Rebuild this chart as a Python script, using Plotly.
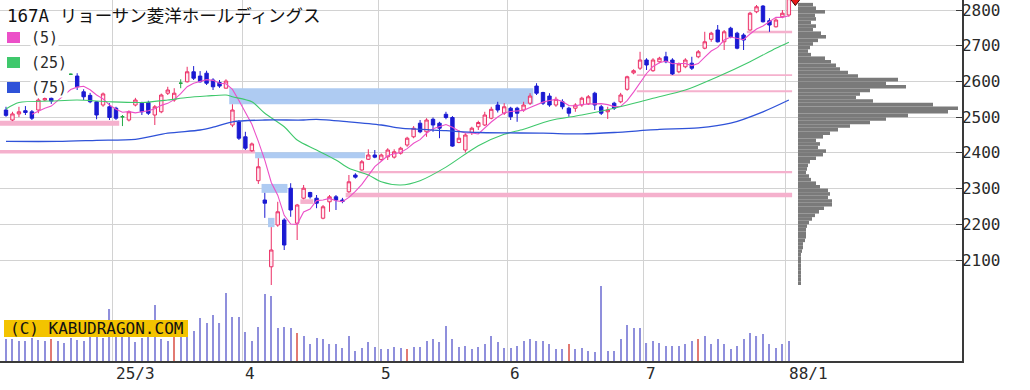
import pandas as pd
import plotly.graph_objects as go

TITLE_CODE = "167A"
TITLE_NAME = "リョーサン菱洋ホールディングス"

# ---------------- data ----------------
opens = [2520, 2492, 2509, 2518, 2515, 2520, 2548, 2553, 2566, 2596,
         2620, 2615, 2571, 2561, 2543, 2534, 2529, 2525, 2501, 2492,
         2534, 2539, 2541, 2506, 2515, 2567, 2548, 2595, 2599, 2627,
         2615, 2623, 2604, 2597, 2581, 2478, 2487, 2445, 2406, 2322,
         2268, 2081, 2198, 2212, 2301, 2203, 2273, 2289, 2273, 2217,
         2263, 2277, 2268, 2291, 2338, 2352, 2382, 2394, 2381, 2389,
         2388, 2399, 2422, 2445, 2483, 2459, 2494, 2483, 2508, 2499,
         2429, 2408, 2457, 2473, 2478, 2497, 2534, 2511, 2525, 2525,
         2520, 2539, 2587, 2569, 2559, 2534, 2543, 2525, 2525, 2534,
         2537, 2567, 2529, 2515, 2539, 2543, 2578, 2624, 2637, 2660,
         2630, 2655, 2669, 2660, 2627, 2641, 2651, 2669, 2693, 2718,
         2744, 2711, 2749, 2735, 2730, 2744, 2795, 2811, 2770, 2753,
         2781, 2786]
highs = [2529, 2515, 2529, 2531, 2520, 2553, 2556, 2556, 2598, 2602,
         2622, 2623, 2578, 2568, 2545, 2569, 2539, 2529, 2506, 2519,
         2554, 2543, 2546, 2534, 2566, 2585, 2581, 2606, 2641, 2643,
         2629, 2630, 2609, 2604, 2606, 2536, 2492, 2459, 2429, 2385,
         2288, 2192, 2263, 2217, 2315, 2257, 2310, 2291, 2282, 2254,
         2282, 2282, 2274, 2338, 2343, 2380, 2410, 2408, 2398, 2413,
         2410, 2417, 2445, 2475, 2492, 2497, 2499, 2487, 2515, 2503,
         2464, 2455, 2473, 2490, 2515, 2529, 2543, 2539, 2529, 2529,
         2543, 2567, 2595, 2571, 2567, 2557, 2550, 2529, 2539, 2557,
         2562, 2571, 2534, 2529, 2543, 2568, 2616, 2634, 2683, 2665,
         2665, 2669, 2683, 2665, 2653, 2665, 2669, 2688, 2739, 2739,
         2758, 2744, 2753, 2739, 2735, 2795, 2814, 2814, 2777, 2777,
         2800, 2840]
lows = [2501, 2489, 2500, 2506, 2492, 2511, 2545, 2537, 2564, 2570,
        2618, 2576, 2548, 2539, 2494, 2529, 2492, 2492, 2475, 2488,
        2530, 2506, 2506, 2478, 2511, 2562, 2543, 2581, 2597, 2604,
        2597, 2590, 2576, 2582, 2582, 2472, 2436, 2408, 2403, 2313,
        2218, 2030, 2193, 2128, 2221, 2156, 2270, 2272, 2245, 2214,
        2235, 2240, 2259, 2288, 2328, 2350, 2380, 2385, 2378, 2380,
        2384, 2395, 2417, 2441, 2455, 2445, 2459, 2441, 2494, 2417,
        2427, 2401, 2450, 2464, 2475, 2494, 2513, 2506, 2492, 2487,
        2515, 2534, 2562, 2534, 2529, 2529, 2522, 2501, 2515, 2529,
        2534, 2520, 2506, 2495, 2520, 2539, 2574, 2620, 2632, 2632,
        2627, 2651, 2651, 2618, 2623, 2637, 2632, 2665, 2690, 2711,
        2709, 2688, 2721, 2690, 2688, 2742, 2791, 2765, 2739, 2751,
        2777, 2781]
closes = [2505, 2509, 2515, 2513, 2497, 2548, 2552, 2545, 2592, 2578,
          2620, 2585, 2557, 2543, 2506, 2565, 2499, 2497, 2501, 2515,
          2548, 2515, 2511, 2529, 2562, 2576, 2567, 2595, 2627, 2609,
          2599, 2595, 2585, 2587, 2601, 2520, 2441, 2413, 2425, 2361,
          2259, 2128, 2235, 2142, 2240, 2254, 2301, 2277, 2259, 2249,
          2277, 2268, 2264, 2319, 2332, 2375, 2394, 2388, 2394, 2408,
          2403, 2413, 2441, 2469, 2459, 2492, 2478, 2469, 2499, 2419,
          2441, 2450, 2469, 2485, 2506, 2522, 2520, 2529, 2501, 2511,
          2534, 2559, 2567, 2539, 2534, 2550, 2529, 2511, 2534, 2553,
          2557, 2534, 2511, 2520, 2525, 2562, 2613, 2630, 2660, 2646,
          2660, 2665, 2655, 2621, 2649, 2660, 2637, 2683, 2711, 2735,
          2711, 2739, 2725, 2693, 2716, 2791, 2809, 2767, 2758, 2772,
          2791, 2832]
volume = [22, 22, 20, 20, 23, 21, 20, 22, 20, 18,
          23, 21, 20, 24, 24, 23, 52, 24, 24, 24,
          19, 23, 24, 56, 22, 20, 24, 24, 24, 30,
          43, 38, 46, 38, 68, 44, 44, 29, 20, 34,
          67, 65, 33, 34, 33, 28, 25, 17, 23, 22,
          17, 17, 13, 25, 10, 13, 19, 14, 12, 12,
          14, 13, 12, 14, 14, 20, 22, 19, 35, 22,
          14, 15, 12, 14, 17, 25, 19, 13, 13, 15,
          20, 22, 20, 20, 17, 12, 12, 17, 12, 13,
          10, 9, 75, 10, 10, 22, 36, 33, 33, 18,
          20, 18, 15, 15, 15, 17, 20, 22, 25, 17,
          22, 17, 12, 15, 22, 28, 25, 27, 17, 13,
          17, 20]
sq_days = [7, 26, 45, 62, 87, 107]          # volume bars drawn in red

month_start = [17, 37, 58, 78, 99, 121]
month_labels = ["25/3", "4", "5", "6", "7", "88/1"]
price_ticks = [2100, 2200, 2300, 2400, 2500, 2600, 2700, 2800]

ma_labels = ["(5)", "(25)", "(75)"]
ma25_idx = [0, 2, 7, 11, 16, 21, 25, 28, 31, 34, 35, 38, 40, 43, 45, 48, 51,
            53, 56, 58, 61, 64, 68, 73, 77, 80, 84, 89, 94, 98, 100, 105,
            110, 115, 119, 121]
ma25_val = [2523, 2541, 2545, 2548, 2543, 2541, 2548, 2555, 2559, 2562, 2557,
            2543, 2511, 2473, 2436, 2408, 2380, 2357, 2338, 2319, 2310, 2322,
            2360, 2420, 2452, 2466, 2490, 2506, 2525, 2543, 2553, 2576, 2613,
            2655, 2693, 2710]
ma75_idx = [0, 8, 14, 20, 25, 30, 32, 35, 40, 46, 48, 53, 58, 61, 68, 73, 83,
            89, 94, 98, 101, 107, 112, 117, 121]
ma75_val = [2432, 2432, 2435, 2438, 2455, 2464, 2472, 2487, 2492, 2492, 2494,
            2487, 2478, 2469, 2462, 2457, 2455, 2453, 2457, 2462, 2466, 2470,
            2483, 2515, 2548]

# price gaps ("windows"): up = pink, down = blue
gap_dir = ["up", "up", "down", "down", "down", "down", "up", "up", "up",
           "up", "up", "up"]
gap_start = [-2, -2, 35, 39, 40, 41, 46, 53, 55, 98, 98, 115]
gap_end = [17, 38, 81, 55, 43, 41, 47, 121, 121, 121, 121, 121]
gap_low = [2476, 2398, 2536, 2385, 2288, 2192, 2257, 2276, 2343, 2570, 2615, 2735]
gap_high = [2490, 2408, 2581, 2402, 2313, 2218, 2270, 2288, 2349, 2575, 2620, 2742]

# price-by-volume profile (10-yen bins, low -> high)
pv_price = list(range(2035, 2825, 10))
pv_vol = [3, 3, 3, 3, 3, 3, 3, 3, 3, 4,
          5, 5, 7, 8, 8, 8, 9, 11, 14, 17,
          21, 26, 34, 34, 30, 32, 30, 22, 18, 13,
          11, 8, 9, 10, 12, 18, 25, 28, 20, 22,
          18, 25, 32, 40, 52, 72, 88, 110, 150, 160,
          135, 75, 58, 62, 72, 108, 88, 100, 60, 50,
          42, 38, 33, 27, 13, 10, 12, 15, 20, 28,
          23, 15, 18, 13, 18, 17, 27, 18, 15]

# ---------------- geometry / style ----------------
W, H = 1030, 390
ML, MR, MT, MB = 0, 68, 0, 29
PW, PH = W - ML - MR, H - MT - MB
X0_PX, DX_PX = 6.0, 6.47
X_RANGE = [(0 - X0_PX) / DX_PX, (PW - X0_PX) / DX_PX]
Y_RANGE = [1817.2, 2828.0]
PROFILE_BASE_PX = 798

UP, UPFILL, DN, DOJI = "#ec2f66", "#ffe9f0", "#1a1ad2", "#22a845"
MA_COLORS = ["#ec50c8", "#3fc86c", "#2f52d8"]
GRID, AXIS, TXT = "#d2d2d2", "#3a3a3a", "#2a2a2a"
PINK_GAP, BLUE_GAP = "#f5b1cd", "#aecbf2"
MONO = "DejaVu Sans Mono"


def px_x(px):
    return px / PW


def px_y(py):
    return 1 - py / PH


n = len(closes)
idx = list(range(n))
fig = go.Figure()

# candles: up / down / doji
groups = {
    "up": [i for i in idx if closes[i] > opens[i]],
    "down": [i for i in idx if closes[i] < opens[i]],
    "doji": [i for i in idx if closes[i] == opens[i]],
}
styles = {
    "up": (UP, UPFILL),
    "down": (DN, DN),
    "doji": (DOJI, DOJI),
}
for name, sel in groups.items():
    lc, fc = styles[name]
    fig.add_trace(go.Candlestick(
        x=sel,
        open=[opens[i] for i in sel], high=[highs[i] for i in sel],
        low=[lows[i] for i in sel], close=[closes[i] for i in sel],
        increasing=dict(line=dict(color=lc, width=1), fillcolor=fc),
        decreasing=dict(line=dict(color=lc, width=1), fillcolor=fc),
        showlegend=False, hoverinfo="skip", name=name,
    ))

# moving averages
ma5 = pd.Series(closes).rolling(5).mean()
fig.add_trace(go.Scatter(x=idx, y=ma5, mode="lines", line=dict(color=MA_COLORS[0], width=1.1),
                         showlegend=False, hoverinfo="skip"))
fig.add_trace(go.Scatter(x=ma25_idx, y=ma25_val, mode="lines",
                         line=dict(color=MA_COLORS[1], width=1.1, shape="spline", smoothing=0.8),
                         showlegend=False, hoverinfo="skip"))
fig.add_trace(go.Scatter(x=ma75_idx, y=ma75_val, mode="lines",
                         line=dict(color=MA_COLORS[2], width=1.3, shape="spline", smoothing=0.8),
                         showlegend=False, hoverinfo="skip"))

# new-high marker at last bar
fig.add_trace(go.Scatter(x=[idx[-1] + 1.0], y=[highs[-1] - 8], mode="markers",
                         marker=dict(symbol="triangle-down", size=14, color="#e81818",
                                     line=dict(color="#400000", width=1)),
                         showlegend=False, hoverinfo="skip"))

# volume
vcolors = ["#e27a72" if i in sq_days else "#8f8fdc" for i in idx]
fig.add_trace(go.Bar(x=idx, y=volume, width=0.17, marker=dict(color=vcolors, line=dict(width=0)),
                     yaxis="y2", showlegend=False, hoverinfo="skip"))

# price-by-volume profile
fig.add_trace(go.Bar(y=pv_price, x=pv_vol, orientation="h", width=10,
                     marker=dict(color="#7a7a7a", line=dict(width=0)),
                     xaxis="x2", yaxis="y", showlegend=False, hoverinfo="skip"))

shapes = []
for d, s, e, lo, hi in zip(gap_dir, gap_start, gap_end, gap_low, gap_high):
    shapes.append(dict(type="rect", xref="x", yref="y", x0=s - 0.5, x1=e + 0.5,
                       y0=lo, y1=hi, line=dict(width=0),
                       fillcolor=PINK_GAP if d == "up" else BLUE_GAP, layer="between"))

annotations = []
for m, lab in zip(month_start, month_labels):
    annotations.append(dict(x=m - 0.5, xref="x", y=0, yref="paper", text=lab,
                            showarrow=False, xanchor="left", yanchor="top",
                            xshift=1, yshift=-1, font=dict(family=MONO, size=16, color=TXT)))

annotations.append(dict(
    x=0, xref="paper", y=1, yref="paper",
    text=(f'<span style="font-family:{MONO}">{TITLE_CODE} </span>'
          f'<span style="font-family:Noto Sans CJK JP">{TITLE_NAME}</span>'),
    showarrow=False, xanchor="left", yanchor="top", xshift=5, yshift=0,
    font=dict(family="Noto Sans CJK JP", size=17.5, color="#111")))

for k, (lab, col) in enumerate(zip(ma_labels, MA_COLORS)):
    top = 32 + 25 * k
    shapes.append(dict(type="rect", xref="paper", yref="paper",
                       x0=px_x(7), x1=px_x(20), y0=px_y(top + 11), y1=px_y(top),
                       fillcolor=col, line=dict(width=0), layer="above"))
    annotations.append(dict(x=px_x(30), xref="paper", y=px_y(top + 6), yref="paper",
                            text=lab, showarrow=False, xanchor="left", yanchor="middle",
                            bgcolor="white", borderpad=0,
                            font=dict(family=MONO, size=15, color=TXT)))

# copyright badge
shapes.append(dict(type="rect", xref="paper", yref="paper",
                   x0=px_x(4), x1=px_x(188), y0=px_y(337), y1=px_y(320),
                   fillcolor="#f3c300", line=dict(width=0), layer="above"))
annotations.append(dict(x=px_x(96), xref="paper", y=px_y(328.5), yref="paper",
                        text="(C) KABUDRAGON.COM", showarrow=False, xanchor="center",
                        yanchor="middle", font=dict(family=MONO, size=16, color="#111")))

fig.update_layout(
    width=W, height=H, margin=dict(l=ML, r=MR, t=MT, b=MB, autoexpand=False),
    paper_bgcolor="white", plot_bgcolor="white",
    showlegend=False, barmode="overlay", boxgap=0.25,
    xaxis=dict(range=X_RANGE, tickvals=[m - 0.5 for m in month_start], showticklabels=False,
               showgrid=True, gridcolor=GRID, gridwidth=1, ticks="", zeroline=False,
               showline=True, linecolor=AXIS, linewidth=1.5, rangeslider=dict(visible=False),
               anchor="y", automargin=False),
    yaxis=dict(range=Y_RANGE, side="right", tickvals=price_ticks, showgrid=True,
               gridcolor=GRID, gridwidth=1, zeroline=False, ticks="inside", ticklen=6,
               tickcolor=AXIS, showline=True, linecolor=AXIS, linewidth=1.5,
               ticklabelstandoff=-5, tickfont=dict(family=MONO, size=16, color=TXT),
               anchor="x", automargin=False),
    yaxis2=dict(range=[0, PH], overlaying="y", visible=False, anchor="x"),
    xaxis2=dict(range=[-PROFILE_BASE_PX, PW - PROFILE_BASE_PX], overlaying="x",
                visible=False, anchor="y"),
    shapes=shapes, annotations=annotations,
)

fig.write_html("out.html", config={"displayModeBar": False},
               post_script="document.body.style.margin='0px';")
